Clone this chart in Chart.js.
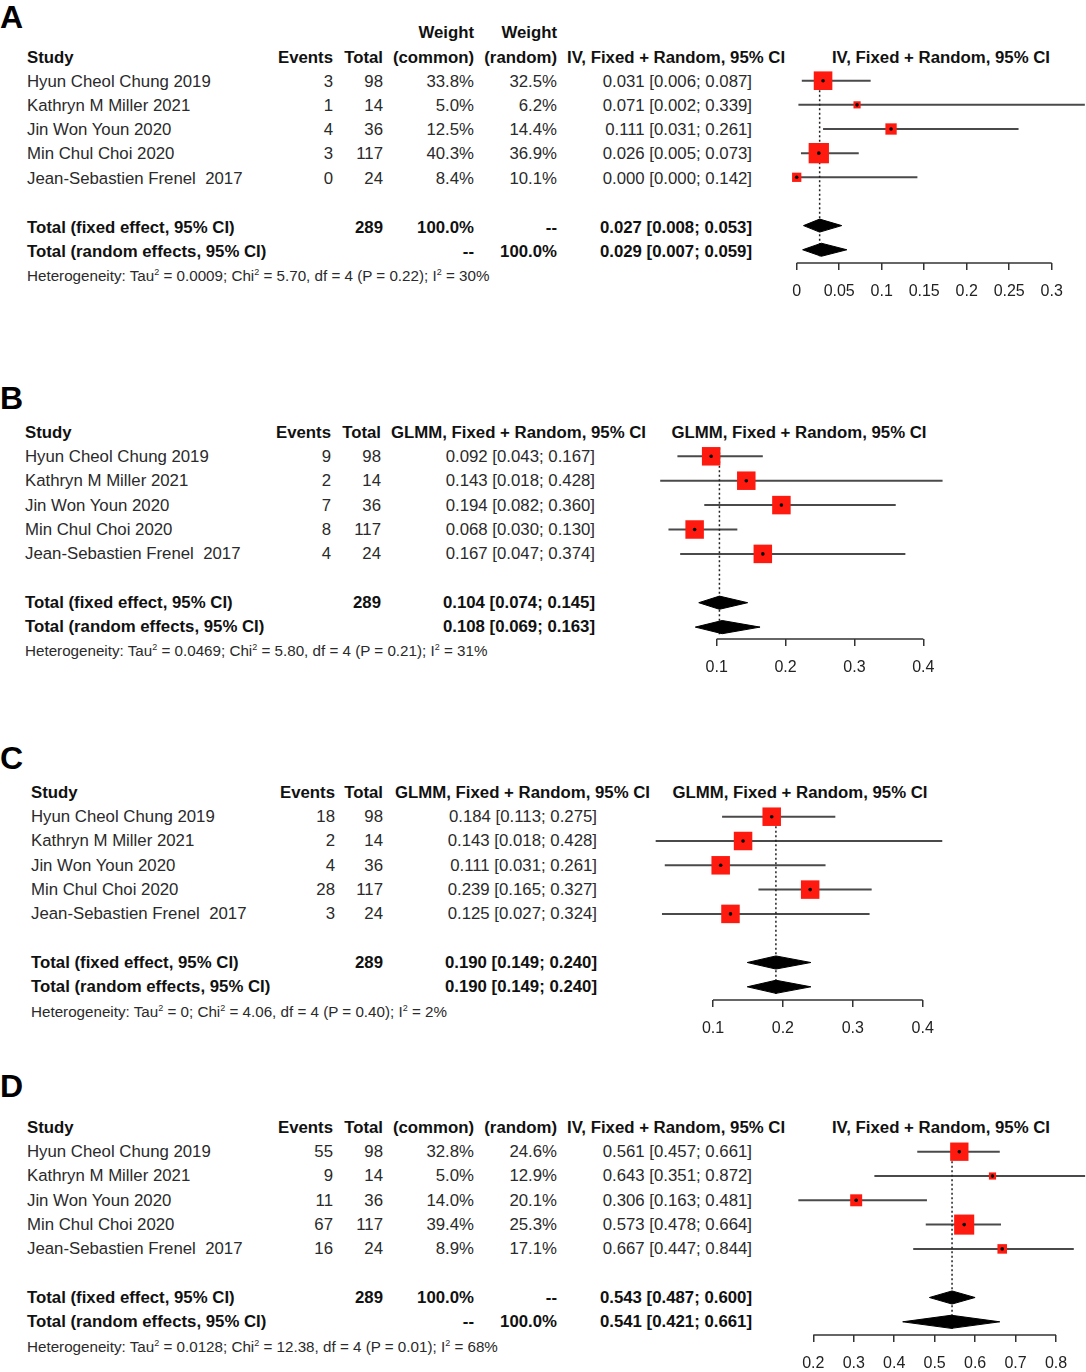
<!DOCTYPE html>
<html>
<head>
<meta charset="utf-8">
<script src="https://cdn.jsdelivr.net/npm/chart.js@4.4.1/dist/chart.umd.min.js"></script>
<style>
  html, body { margin: 0; padding: 0; background: #fff; }
  #page { position: relative; width: 1086px; height: 1372px; overflow: hidden;
          font-family: "Liberation Sans", Arial, sans-serif; color: #2a2a2a; }
  .t { position: absolute; white-space: pre; line-height: 20px; font-size: 16.8px; }
  .b { font-weight: bold; color: #111; }
  .het { font-size: 15.2px; }
  .het sup { font-size: 9px; vertical-align: 6px; line-height: 0; }
  .lab { position: absolute; font-weight: bold; font-size: 32px; line-height: 36px; color: #000; }
  canvas { position: absolute; }
</style>
</head>
<body>
<div id="page"></div>
<script>
// ---- data ----
const studies = ["Hyun Cheol Chung 2019", "Kathryn M Miller 2021", "Jin Won Youn 2020",
                 "Min Chul Choi 2020", "Jean-Sebastien Frenel  2017"];
const totals = [98, 14, 36, 117, 24];
const totalN = 289;

// A: IV
const eventsA = [3, 1, 4, 3, 0];
const wCommonA = [33.8, 5.0, 12.5, 40.3, 8.4];
const wRandomA = [32.5, 6.2, 14.4, 36.9, 10.1];
const estA = [0.031, 0.071, 0.111, 0.026, 0.000];
const loA = [0.006, 0.002, 0.031, 0.005, 0.000];
const hiA = [0.087, 0.339, 0.261, 0.073, 0.142];
const fixedA = [0.027, 0.008, 0.053];
const randomA = [0.029, 0.007, 0.059];
const ticksA = [0, 0.05, 0.1, 0.15, 0.2, 0.25, 0.3];
const tickLabelsA = ["0", "0.05", "0.1", "0.15", "0.2", "0.25", "0.3"];

// B: GLMM
const eventsB = [9, 2, 7, 8, 4];
const estB = [0.092, 0.143, 0.194, 0.068, 0.167];
const loB = [0.043, 0.018, 0.082, 0.030, 0.047];
const hiB = [0.167, 0.428, 0.360, 0.130, 0.374];
const fixedB = [0.104, 0.074, 0.145];
const randomB = [0.108, 0.069, 0.163];
const ticksB = [0.1, 0.2, 0.3, 0.4];
const tickLabelsB = ["0.1", "0.2", "0.3", "0.4"];

// C: GLMM
const eventsC = [18, 2, 4, 28, 3];
const estC = [0.184, 0.143, 0.111, 0.239, 0.125];
const loC = [0.113, 0.018, 0.031, 0.165, 0.027];
const hiC = [0.275, 0.428, 0.261, 0.327, 0.324];
const fixedC = [0.190, 0.149, 0.240];
const randomC = [0.190, 0.149, 0.240];
const ticksC = [0.1, 0.2, 0.3, 0.4];
const tickLabelsC = ["0.1", "0.2", "0.3", "0.4"];

// D: IV
const eventsD = [55, 9, 11, 67, 16];
const wCommonD = [32.8, 5.0, 14.0, 39.4, 8.9];
const wRandomD = [24.6, 12.9, 20.1, 25.3, 17.1];
const estD = [0.561, 0.643, 0.306, 0.573, 0.667];
const loD = [0.457, 0.351, 0.163, 0.478, 0.447];
const hiD = [0.661, 0.872, 0.481, 0.664, 0.844];
const fixedD = [0.543, 0.487, 0.600];
const randomD = [0.541, 0.421, 0.661];
const ticksD = [0.2, 0.3, 0.4, 0.5, 0.6, 0.7, 0.8];
const tickLabelsD = ["0.2", "0.3", "0.4", "0.5", "0.6", "0.7", "0.8"];

// heterogeneity, A..D
const hetTau2 = ["0.0009", "0.0469", "0", "0.0128"];
const hetChi2 = ["5.70", "5.80", "4.06", "12.38"];
const hetP = ["0.22", "0.21", "0.40", "0.01"];
const hetI2 = [30, 31, 2, 68];

const ivHead = "IV, Fixed + Random, 95% CI";
const glmmHead = "GLMM, Fixed + Random, 95% CI";

const panels = [
  { id: "A", head: ivHead, events: eventsA, wCommon: wCommonA, wRandom: wRandomA, est: estA, lo: loA, hi: hiA,
    fixed: fixedA, random: randomA, ticks: ticksA, tickLabels: tickLabelsA, weightRow: true },
  { id: "B", head: glmmHead, events: eventsB, est: estB, lo: loB, hi: hiB,
    fixed: fixedB, random: randomB, ticks: ticksB, tickLabels: tickLabelsB },
  { id: "C", head: glmmHead, events: eventsC, est: estC, lo: loC, hi: hiC,
    fixed: fixedC, random: randomC, ticks: ticksC, tickLabels: tickLabelsC },
  { id: "D", head: ivHead, events: eventsD, wCommon: wCommonD, wRandom: wRandomD, est: estD, lo: loD, hi: hiD,
    fixed: fixedD, random: randomD, ticks: ticksD, tickLabels: tickLabelsD }
];

// ---- layout (pixel positions) ----
const textLayout = [
  { labelY: 17, weightY: 33, headY: 58, rowY: 81.7, dy: 24.2, totY: [228.3, 252.3], hetY: 275.5,
    studyX: 27, eventsX: 333, totalX: 383, commonX: 474, randomX: 557, ciHeadX: 567, ciX: 752, plotHeadX: 941 },
  { labelY: 398, headY: 433, rowY: 457, dy: 24.3, totY: [603, 627.3], hetY: 651,
    studyX: 25, eventsX: 331, totalX: 381, ciHeadX: 391, ciX: 595, plotHeadX: 799 },
  { labelY: 758, headY: 793, rowY: 817, dy: 24.3, totY: [963, 987], hetY: 1012,
    studyX: 31, eventsX: 335, totalX: 383, ciHeadX: 395, ciX: 597, plotHeadX: 800 },
  { labelY: 1086, headY: 1128.3, rowY: 1152, dy: 24.3, totY: [1298.3, 1322], hetY: 1347,
    studyX: 27, eventsX: 333, totalX: 383, commonX: 474, randomX: 557, ciHeadX: 567, ciX: 752, plotHeadX: 941 }
];

const plotLayout = [
  { zero: 796.7, k: 850, row0: 80.7, dy: 24.15, axisY: 263, square: w => 3.2 * Math.sqrt(w) },
  { zero: 647.8, k: 688.7, row0: 456.3, dy: 24.4, axisY: 638.5, square: () => 18.5 },
  { zero: 643.1, k: 699, row0: 816.7, dy: 24.3, axisY: 1000, square: () => 18.5 },
  { zero: 732.4, k: 404.5, row0: 1151.7, dy: 24.3, axisY: 1335, square: w => 3.2 * Math.sqrt(w) }
];

const page = document.getElementById("page");

function txt(html, x, y, align, cls) {
  const el = document.createElement("div");
  el.className = "t " + (cls || "");
  el.innerHTML = html;
  el.style.top = (y - 10) + "px";
  if (align === "right") {
    el.style.left = (x - 500) + "px";
    el.style.width = "500px";
    el.style.textAlign = "right";
  } else if (align === "center") {
    el.style.left = (x - 300) + "px";
    el.style.width = "600px";
    el.style.textAlign = "center";
  } else {
    el.style.left = x + "px";
  }
  page.appendChild(el);
}

const f3 = v => v.toFixed(3);
const ciText = (e, l, h) => `${f3(e)} [${f3(l)}; ${f3(h)}]`;
const pct = v => v.toFixed(1) + "%";

function drawTable(p, L, idx) {
  const lab = document.createElement("div");
  lab.className = "lab";
  lab.textContent = p.id;
  lab.style.left = "0px";
  lab.style.top = (L.labelY - 17.7) + "px";
  page.appendChild(lab);

  if (p.weightRow) {
    txt("Weight", L.commonX, L.weightY, "right", "b");
    txt("Weight", L.randomX, L.weightY, "right", "b");
  }
  txt("Study", L.studyX, L.headY, "left", "b");
  txt("Events", L.eventsX, L.headY, "right", "b");
  txt("Total", L.totalX, L.headY, "right", "b");
  if (p.wCommon) {
    txt("(common)", L.commonX, L.headY, "right", "b");
    txt("(random)", L.randomX, L.headY, "right", "b");
  }
  txt(p.head, L.ciHeadX, L.headY, "left", "b");
  txt(p.head, L.plotHeadX, L.headY, "center", "b");

  studies.forEach((s, i) => {
    const y = L.rowY + i * L.dy;
    txt(s, L.studyX, y, "left");
    txt(String(p.events[i]), L.eventsX, y, "right");
    txt(String(totals[i]), L.totalX, y, "right");
    if (p.wCommon) {
      txt(pct(p.wCommon[i]), L.commonX, y, "right");
      txt(pct(p.wRandom[i]), L.randomX, y, "right");
    }
    txt(ciText(p.est[i], p.lo[i], p.hi[i]), L.ciX, y, "right");
  });

  const [yf, yr] = L.totY;
  txt("Total (fixed effect, 95% CI)", L.studyX, yf, "left", "b");
  txt(String(totalN), L.totalX, yf, "right", "b");
  txt("Total (random effects, 95% CI)", L.studyX, yr, "left", "b");
  if (p.wCommon) {
    txt("100.0%", L.commonX, yf, "right", "b");
    txt("--", L.randomX, yf, "right", "b");
    txt("--", L.commonX, yr, "right", "b");
    txt("100.0%", L.randomX, yr, "right", "b");
  }
  txt(ciText(p.fixed[0], p.fixed[1], p.fixed[2]), L.ciX, yf, "right", "b");
  txt(ciText(p.random[0], p.random[1], p.random[2]), L.ciX, yr, "right", "b");

  txt(`Heterogeneity: Tau<sup>2</sup> = ${hetTau2[idx]}; Chi<sup>2</sup> = ${hetChi2[idx]}, df = 4 (P = ${hetP[idx]}); I<sup>2</sup> = ${hetI2[idx]}%`,
      L.studyX, L.hetY, "left", "het");
}

// axis segment between first and last tick (R style)
const axisLine = {
  id: "axisLine",
  afterDraw(chart) {
    const s = chart.scales.x;
    const t = s.ticks;
    const y = chart.chartArea.bottom;
    const ctx = chart.ctx;
    ctx.save();
    ctx.strokeStyle = "#333";
    ctx.lineWidth = 1.5;
    ctx.beginPath();
    ctx.moveTo(s.getPixelForValue(t[0].value), y);
    ctx.lineTo(s.getPixelForValue(t[t.length - 1].value), y);
    ctx.stroke();
    ctx.restore();
  }
};

function diamond(d, row) {
  const h = 0.27;
  return [
    { x: d[1], y: row }, { x: d[0], y: row - h }, { x: d[2], y: row },
    { x: d[0], y: row + h }, { x: d[1], y: row }
  ];
}

function drawForest(p, G) {
  const left = 640;
  const top = Math.round(G.row0 - 30);
  const axisY = Math.round(G.axisY);
  const below = 45;
  const width = 1086 - left;
  const height = axisY - top + below;

  const canvas = document.createElement("canvas");
  canvas.width = width;
  canvas.height = height;
  canvas.style.left = left + "px";
  canvas.style.top = top + "px";
  canvas.style.width = width + "px";
  canvas.style.height = height + "px";
  page.appendChild(canvas);

  const xMin = (left - G.zero) / G.k;
  const xMax = (1086 - G.zero) / G.k;
  const yMin = (top - G.row0) / G.dy;
  const yMax = (axisY - G.row0) / G.dy;

  const pts = p.est.map((v, i) => ({ x: v, y: i }));
  const sizes = p.est.map((v, i) => G.square(p.wCommon ? p.wCommon[i] : 0) / Math.SQRT2);

  const datasets = [
    { type: "scatter", data: pts, pointStyle: "circle", pointRadius: 1.8,
      backgroundColor: "#000", borderWidth: 0, order: 0, clip: false },
    { type: "scatter", data: pts, pointStyle: "rect", pointRadius: sizes,
      backgroundColor: "#ff1a10", borderWidth: 0, order: 1, clip: false },
    { type: "line", data: diamond(p.fixed, 6), fill: "shape", backgroundColor: "#000",
      borderColor: "#000", borderWidth: 1, pointRadius: 0, order: 2, clip: false },
    { type: "line", data: diamond(p.random, 7), fill: "shape", backgroundColor: "#000",
      borderColor: "#000", borderWidth: 1, pointRadius: 0, order: 2, clip: false },
    { type: "line", data: [{ x: p.fixed[0], y: -0.35 }, { x: p.fixed[0], y: 7.3 }],
      borderColor: "#222", borderWidth: 1.5, borderDash: [2, 2.5], pointRadius: 0, order: 3, clip: false }
  ];
  p.lo.forEach((lo, i) => {
    datasets.push({ type: "line", data: [{ x: lo, y: i }, { x: p.hi[i], y: i }],
      borderColor: "#4a4a4a", borderWidth: 2, pointRadius: 0, order: 4, clip: false });
  });

  new Chart(canvas.getContext("2d"), {
    type: "scatter",
    data: { datasets },
    options: {
      responsive: false,
      animation: false,
      devicePixelRatio: 1,
      events: [],
      layout: { padding: 0, autoPadding: false },
      plugins: { legend: { display: false }, tooltip: { enabled: false } },
      scales: {
        x: {
          type: "linear",
          min: xMin,
          max: xMax,
          afterBuildTicks: s => { s.ticks = p.ticks.map(v => ({ value: v })); },
          afterFit: s => { s.height = below; },
          grid: { drawOnChartArea: false, drawTicks: true, tickLength: 7, color: "#333", lineWidth: 1.5 },
          border: { display: false },
          ticks: {
            autoSkip: false,
            maxRotation: 0,
            padding: 12,
            color: "#222",
            font: { family: "'Liberation Sans', Arial, sans-serif", size: 16 },
            callback: (v, i) => p.tickLabels[i]
          }
        },
        y: { type: "linear", display: false, reverse: true, min: yMin, max: yMax }
      }
    },
    plugins: [axisLine]
  });
}

panels.forEach((p, i) => {
  drawTable(p, textLayout[i], i);
  drawForest(p, plotLayout[i]);
});
</script>
</body>
</html>
